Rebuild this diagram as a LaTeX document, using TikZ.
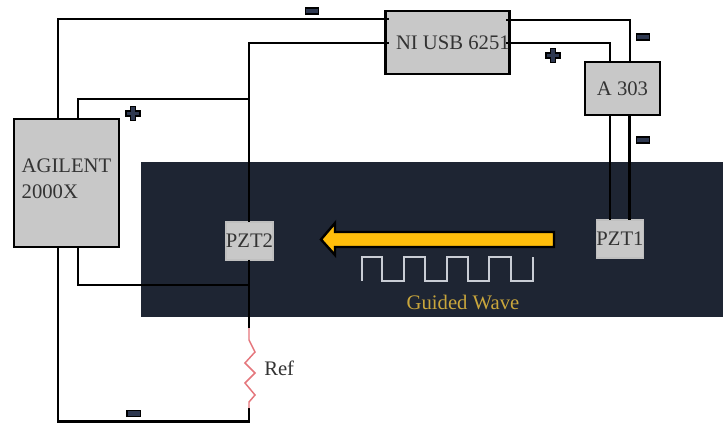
\documentclass[tikz,border=0pt]{standalone}
\usepackage{fontspec}
\setmainfont{Liberation Serif}
\definecolor{platecol}{HTML}{1E2533}
\definecolor{boxcol}{HTML}{C8C8C8}
\definecolor{signcol}{HTML}{2E3850}
\definecolor{arrowcol}{HTML}{FFBE0B}
\definecolor{wavecol}{HTML}{C9CDD5}
\definecolor{labelcol}{HTML}{C9A63C}
\definecolor{refcol}{HTML}{E5767C}
\definecolor{textcol}{HTML}{333333}
\tikzset{
    wire/.style={line width=1.9pt,line join=miter,black},
    devtext/.style={text=textcol,font=\fontsize{15.5}{19.5}\selectfont,inner sep=0pt},
    devbox/.style={devtext,draw=black,fill=boxcol,line width=1.9pt,outer sep=0pt},
    pztbox/.style={devbox,draw=black!25,line width=1.2pt,minimum width=35pt,minimum height=28.5pt},
    minussign/.style={draw=black,fill=signcol,line width=1pt,inner sep=0pt,outer sep=0pt,
        minimum width=10pt,minimum height=4.6pt},
    plussign/.pic={
        \filldraw[draw=black,fill=signcol,line width=1.3pt]
            (-2.5,-7) -- (2.5,-7) -- (2.5,-2.5) -- (7,-2.5) -- (7,2.5) -- (2.5,2.5) -- (2.5,7)
            -- (-2.5,7) -- (-2.5,2.5) -- (-7,2.5) -- (-7,-2.5) -- (-2.5,-2.5) -- cycle;
    }
}
\begin{document}
\begin{tikzpicture}[x=0.75pt,y=-0.75pt]
    \useasboundingbox (0,0) rectangle (723,423);
    \fill[white] (0,0) rectangle (723,423);
    \fill[platecol] (141,162) rectangle (723,317);
    % instruments
    \node[devbox,minimum width=78.75pt,minimum height=96pt] (agilent) at (66.5,183) {};
    \node[devtext,align=left] (agilenttext) at (66.5,178.5) {AGILENT\\2000X};
    \node[devbox,minimum width=87.75pt,minimum height=47.25pt] (niusb) at (447.5,42.5) {\hspace{8pt}NI USB 6251};
    \node[devbox,minimum width=56.25pt,minimum height=39.75pt] (amp) at (622.5,88.5) {A 303};
    \node[pztbox] (pztb) at (249.5,241) {PZT2};
    \node[pztbox] (pzta) at (620,239) {PZT1};
    % wire ends
    \coordinate (agtopa) at (58,119);
    \coordinate (agtopb) at (78,119);
    \coordinate (agbota) at (58,247);
    \coordinate (agbotb) at (78,247);
    \coordinate (niwa) at (389,19);
    \coordinate (niwb) at (389,43);
    \coordinate (niea) at (506,20);
    \coordinate (nieb) at (506,43);
    \coordinate (amptopa) at (610,62);
    \coordinate (amptopb) at (630,62);
    \coordinate (ampbota) at (610,115);
    \coordinate (ampbotb) at (629.5,115);
    \coordinate (pztatopa) at (610,220);
    \coordinate (pztatopb) at (629.5,220);
    \coordinate (pztbtop) at (249,222);
    \coordinate (pztbbot) at (249,260);
    \coordinate (reftop) at (249,328);
    \coordinate (refbot) at (249,408);
    \coordinate (jointop) at (249,99);
    \coordinate (joinbot) at (249,285);
    % wires
    \draw[wire] (agtopa) |- (niwa);
    \draw[wire] (agtopb) |- (jointop);
    \draw[wire] (pztbtop) |- (niwb);
    \draw[wire] (pztbbot) -- (reftop);
    \draw[wire] (agbotb) |- (joinbot);
    \draw[wire] (agbota) |- (249,421.5) -- (refbot);
    \draw[wire] (niea) -| (amptopb);
    \draw[wire] (nieb) -| (amptopa);
    \draw[wire] (ampbota) -- (pztatopa);
    \draw[wire] (ampbotb) -- (pztatopb);
    % reference resistor
    \draw[refcol,line width=1.1pt] (reftop) -- (249,340) -- (255,352) -- (245,363) -- (255,373)
        -- (245,383) -- (255,395) -- (249,402) -- (refbot);
    \node[devtext,anchor=west] (reflabel) at (264,368) {Ref};
    % polarity marks
    \node[minussign] (minusa) at (312,11) {};
    \node[minussign] (minusb) at (643,37) {};
    \node[minussign] (minusc) at (643,140) {};
    \node[minussign] (minusd) at (133.5,413.5) {};
    \pic at (133,113.5) {plussign};
    \pic at (553,55.5) {plussign};
    % guided wave
    \filldraw[draw=black,fill=arrowcol,line width=1.8pt] (554,232) -- (335,232) -- (335,223) -- (321,239.5)
        -- (335,255) -- (335,247) -- (554,247) -- cycle;
    \draw[wavecol,line width=1.6pt] (362,281) |- (382,257) |- (404,281) |- (425,257) |- (447,281)
        |- (468,257) |- (489,281) |- (511,257) |- (533,281) -- (533,257);
    \node[devtext,text=labelcol] (wavelabel) at (463,302) {Guided Wave};
\end{tikzpicture}
\end{document}
